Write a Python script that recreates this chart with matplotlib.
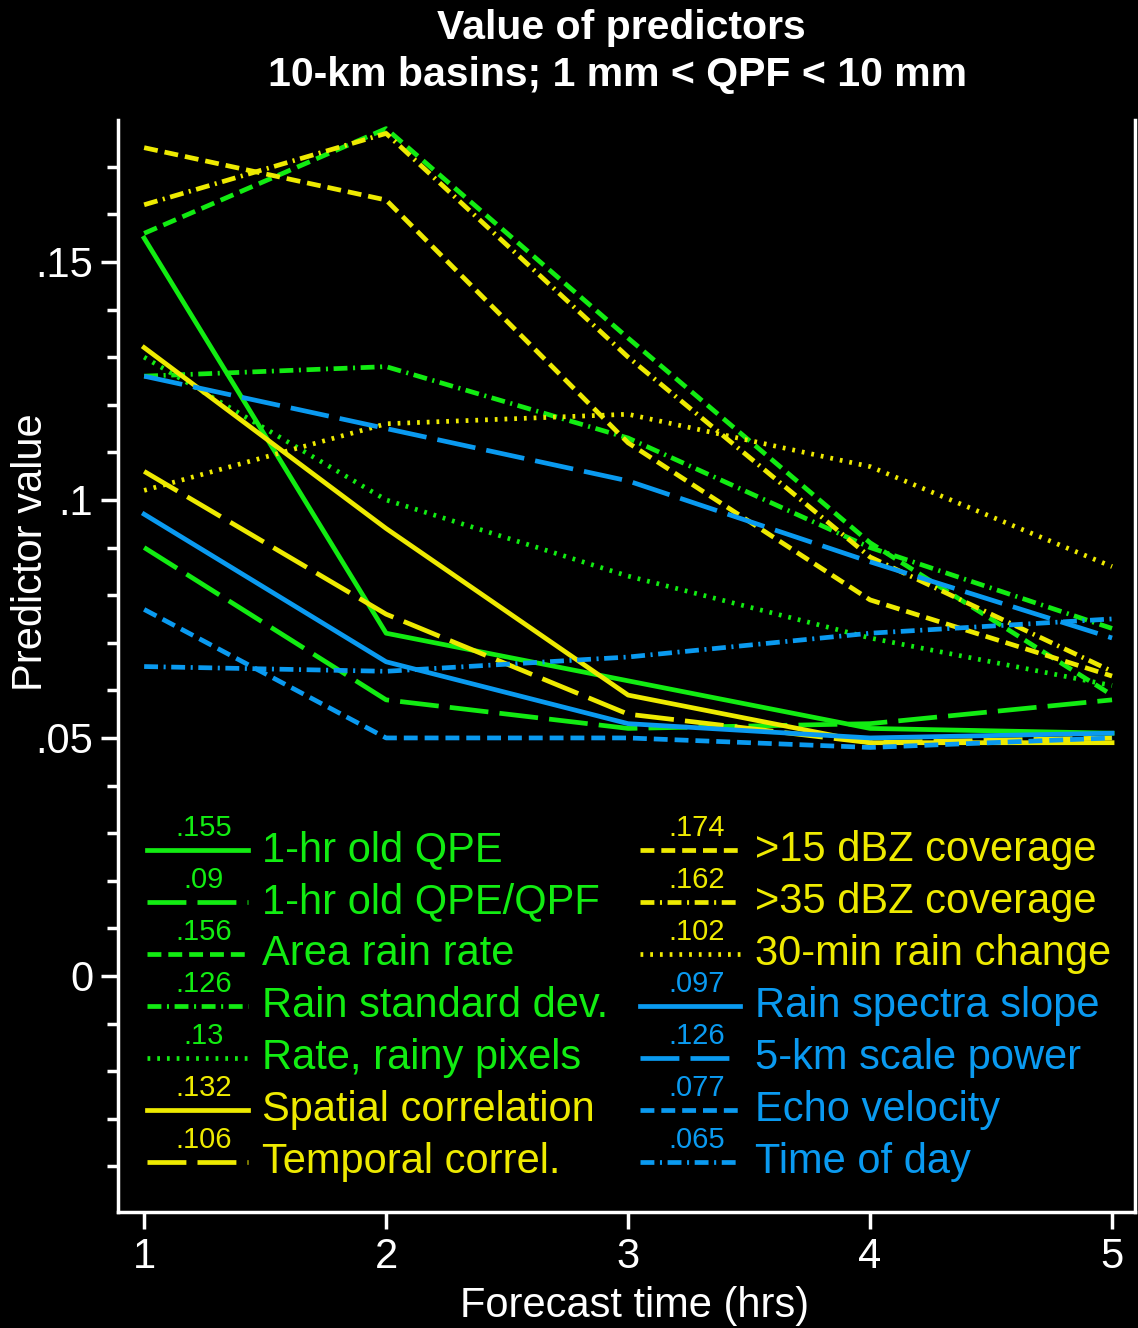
import matplotlib
matplotlib.use('Agg')
import matplotlib.pyplot as plt
from matplotlib.lines import Line2D
from matplotlib.ticker import MultipleLocator, FuncFormatter

plt.rcParams['font.family'] = ['Liberation Sans', 'DejaVu Sans']
plt.rcParams['lines.scale_dashes'] = False

hours = [1, 2, 3, 4, 5]

green = '#12ec12'
yellow = '#eeea00'
blue = '#0a9af0'

solid = '-'
longdash = (0, (28, 8))
dash = (0, (10, 5))
dashdot = (0, (10, 4, 1.5, 4))
dotted = (0, (2, 5))

names = [
    '1-hr old QPE', '1-hr old QPE/QPF', 'Area rain rate', 'Rain standard dev.',
    'Rate, rainy pixels', 'Spatial correlation', 'Temporal correl.',
    '>15 dBZ coverage', '>35 dBZ coverage', '30-min rain change',
    'Rain spectra slope', '5-km scale power', 'Echo velocity', 'Time of day',
]
labels_first = ['.155', '.09', '.156', '.126', '.13', '.132', '.106',
                '.174', '.162', '.102', '.097', '.126', '.077', '.065']
colors = [green] * 5 + [yellow] * 5 + [blue] * 4
styles = [solid, longdash, dash, dashdot, dotted, solid, longdash,
          dash, dashdot, dotted, solid, longdash, dash, dashdot]

qpe_old = [0.155, 0.072, 0.062, 0.052, 0.051]
qpe_qpf = [0.090, 0.058, 0.052, 0.053, 0.058]
area_rate = [0.156, 0.178, 0.134, 0.091, 0.059]
rain_std = [0.126, 0.128, 0.113, 0.090, 0.073]
rainy_px = [0.130, 0.100, 0.084, 0.071, 0.061]
spatial = [0.132, 0.094, 0.059, 0.049, 0.049]
temporal = [0.106, 0.076, 0.055, 0.049, 0.050]
dbz15 = [0.174, 0.163, 0.112, 0.079, 0.063]
dbz35 = [0.162, 0.177, 0.130, 0.088, 0.064]
rain_chg = [0.102, 0.116, 0.118, 0.107, 0.086]
spec_slope = [0.097, 0.066, 0.053, 0.050, 0.051]
power5 = [0.126, 0.115, 0.104, 0.087, 0.071]
echo_vel = [0.077, 0.050, 0.050, 0.048, 0.050]
time_day = [0.065, 0.064, 0.067, 0.072, 0.075]

series = [qpe_old, qpe_qpf, area_rate, rain_std, rainy_px, spatial, temporal,
          dbz15, dbz35, rain_chg, spec_slope, power5, echo_vel, time_day]

fig = plt.figure(figsize=(11.38, 13.28), dpi=100, facecolor='black')
ax = fig.add_axes([0.1037, 0.0873, 0.8937, 0.8223], facecolor='black')

for vals, c, ls in zip(series, colors, styles):
    ax.plot(hours, vals, color=c, linestyle=ls, linewidth=3.4)

ax.set_xlim(0.892, 5.095)
ax.set_ylim(-0.0496, 0.1798)

for side in ['left', 'bottom', 'right']:
    ax.spines[side].set_color('white')
    ax.spines[side].set_linewidth(2.5)
ax.spines['top'].set_visible(False)

ax.set_xticks(hours)
ax.yaxis.set_major_locator(MultipleLocator(0.05))
ax.yaxis.set_minor_locator(MultipleLocator(0.01))


def fmt(v, pos):
    s = '%g' % round(v, 3)
    return s.replace('0.', '.') if s != '0' else '0'


ax.yaxis.set_major_formatter(FuncFormatter(fmt))
ax.tick_params(axis='both', colors='white', labelsize=30, width=2.5)
ax.tick_params(axis='y', which='major', length=12, pad=6)
ax.tick_params(axis='y', which='minor', length=8, width=2.5, colors='white')
ax.tick_params(axis='x', which='major', length=12, pad=6)

ax.set_xlabel('Forecast time (hrs)', color='white', fontsize=30)
ax.set_ylabel('Predictor value', color='white', fontsize=30)
ax.xaxis.set_label_coords(0.508, -0.068)
ax.yaxis.set_label_coords(-0.066, 0.604)

fig.text(0.546, 0.979, 'Value of predictors', color='white', fontsize=29.5,
         fontweight='bold', ha='center', va='center')
fig.text(0.543, 0.9435, '10-km basins; 1 mm < QPF < 10 mm', color='white',
         fontsize=29.5, fontweight='bold', ha='center', va='center')

# hand-made legend, two columns of seven
row0 = 0.3315
step = 0.0476
for i, (name, lab, c, ls) in enumerate(zip(names, labels_first, colors, styles)):
    col, row = divmod(i, 7)
    x0 = 0.0285 if col == 0 else 0.513
    y = row0 - row * step
    ax.add_line(Line2D([x0, x0 + 0.099], [y, y], transform=ax.transAxes,
                       color=c, linestyle=ls, linewidth=3.4))
    ax.text(x0 + 0.056, y + 0.007, lab, transform=ax.transAxes, color=c,
            fontsize=21, ha='center', va='bottom')
    ax.text(x0 + 0.113, y, name, transform=ax.transAxes, color=c,
            fontsize=30, ha='left', va='center')

fig.savefig('out.png', dpi=100, facecolor='black')
